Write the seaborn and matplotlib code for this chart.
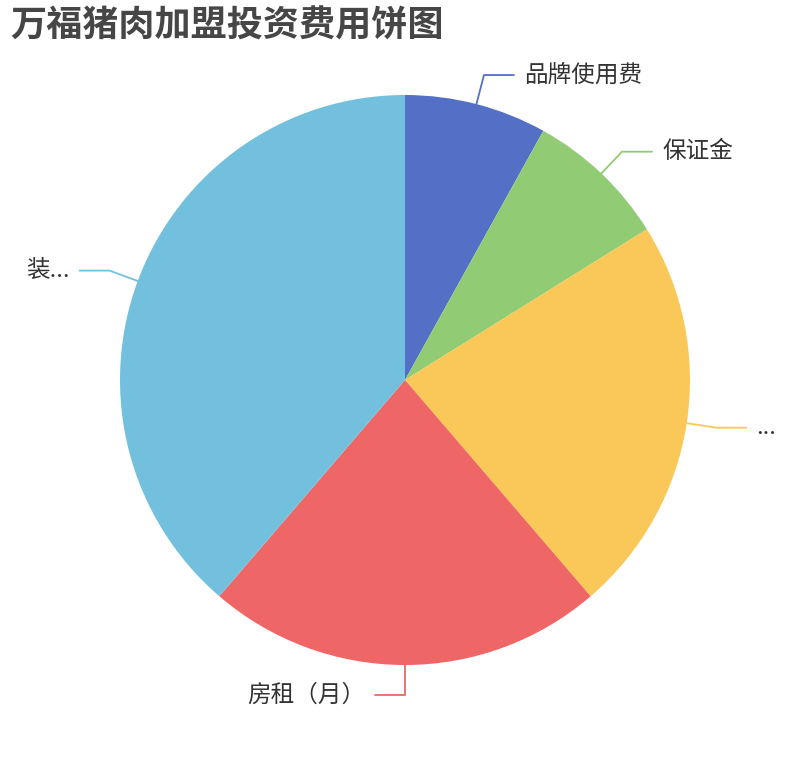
import numpy as np
import matplotlib
matplotlib.use("Agg")
import matplotlib.pyplot as plt
import seaborn as sns

# 饼图数据（按顺时针，从12点方向开始）
labels = ["品牌使用费", "保证金", "...", "房租（月）", "装..."]
values = [5, 5, 14, 14, 24]
colors = ["#5470c6", "#91cc75", "#fac858", "#ee6666", "#73c0de"]
title = "万福猪肉加盟投资费用饼图"

sns.set_theme(style="white")
plt.rcParams['font.family'] = ['Noto Sans CJK SC', 'DejaVu Sans']

fig = plt.figure(figsize=(8.1, 7.6), dpi=100)
ax = fig.add_axes([0, 0, 1, 1])

cx, cy, r = 405, 380, 285
# y轴向下，所以 -90 度是顶部，逆时针(数学)在画面上是顺时针
wedges, _ = ax.pie(values, colors=colors, startangle=-90, counterclock=True,
                   center=(cx, cy), radius=r, frame=True,
                   wedgeprops=dict(linewidth=0))
ax.set_xlim(0, 810)
ax.set_ylim(760, 0)
ax.axis("off")

# 引导线和标签
total = sum(values)
cum = np.cumsum([0] + values)
for i, lab in enumerate(labels):
    mid = (cum[i] + cum[i + 1]) / 2 / total * 2 * np.pi  # 从顶部顺时针
    sx, sy = np.sin(mid), -np.cos(mid)
    x0, y0 = cx + r * sx, cy + r * sy
    x1, y1 = cx + (r + 30) * sx, cy + (r + 30) * sy
    side = 1 if sx > 1e-6 else -1
    x2 = x1 + side * 30
    ax.plot([x0, x1, x2], [y0, y1, y1], color=colors[i], lw=1.3)
    ax.text(x2 + side * 10, y1, lab, ha="left" if side > 0 else "right",
            va="center", fontsize=17, color="#333333")

fig.text(10 / 810, 1 - 8 / 760, title, ha="left", va="top",
         fontsize=26, fontweight="bold", color="#464646")

fig.savefig("out.png", dpi=100)
